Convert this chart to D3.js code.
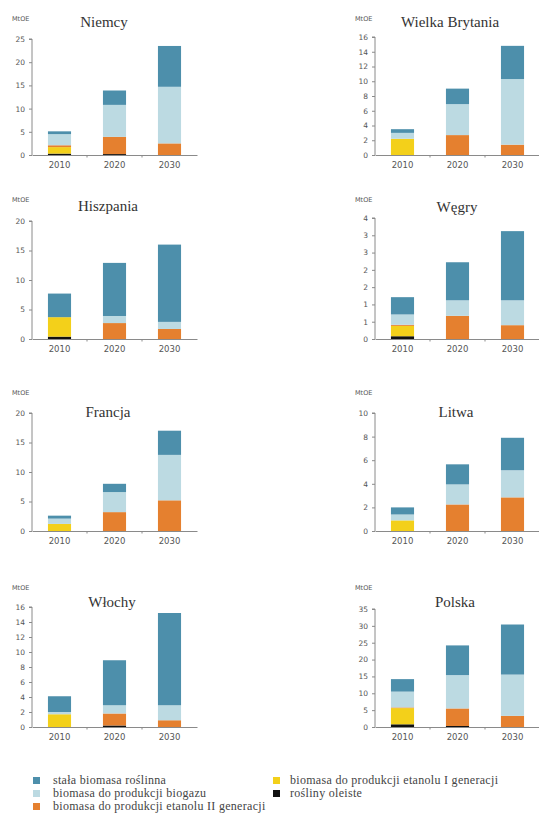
<!DOCTYPE html>
<html><head><meta charset="utf-8">
<script src="https://cdn.jsdelivr.net/npm/d3@7"></script>
<style>
html,body{margin:0;padding:0;background:#fff;}
svg{display:block;}
</style></head>
<body>
<svg id="chart" width="539" height="835"></svg>
<script>
// ---- DATA ----
const years = ["2010", "2020", "2030"];
const countries = ["Niemcy", "Wielka Brytania", "Hiszpania", "Węgry", "Francja", "Litwa", "Włochy", "Polska"];
const seriesNames = ["rośliny oleiste", "biomasa do produkcji etanolu I generacji", "biomasa do produkcji etanolu II generacji", "biomasa do produkcji biogazu", "stała biomasa roślinna"];
// per country: values for 2010, 2020, 2030
const oleiste   = [[0.3,0.2,0],[0,0,0],[0.4,0,0],[0.08,0,0],[0,0,0],[0,0,0],[0,0.2,0],[0.8,0.3,0]];
const etanolI   = [[1.4,0,0],[2.2,0,0],[3.3,0,0],[0.3,0,0],[1.2,0,0],[0.9,0,0],[1.7,0,0],[4.8,0,0]];
const etanolII  = [[0.4,3.7,2.5],[0,2.7,1.4],[0,2.7,1.7],[0.03,0.67,0.4],[0,3.2,5.2],[0,2.25,2.85],[0,1.6,0.9],[0.2,5.2,3.3]];
const biogaz    = [[2.4,6.9,12.2],[0.8,4.2,8.9],[0,1.2,1.2],[0.3,0.45,0.72],[0.9,3.4,7.7],[0.5,1.7,2.3],[0.3,1.1,2.0],[4.7,9.9,12.25]];
const stala     = [[0.6,3.1,8.8],[0.5,2.1,4.5],[4.0,9.0,13.1],[0.5,1.1,2.0],[0.5,1.4,4.1],[0.6,1.7,2.75],[2.1,6.0,12.3],[3.7,8.8,14.85]];
const yTicks = [
  [0,5,10,15,20,25],
  [0,2,4,6,8,10,12,14,16],
  [0,5,10,15,20],
  [0,0.5,1,1.5,2,2.5,3,3.5],
  [0,5,10,15,20],
  [0,2,4,6,8,10],
  [0,2,4,6,8,10,12,14,16],
  [0,5,10,15,20,25,30,35]
];
const yTickLabels = [
  null, null, null,
  ["0","1","1","2","2","3","3","4"],
  null, null, null, null
];
const unitLabel = "MtOE";
const legendOrder = [4, 1, 3, 0, 2]; // indices into seriesNames

// ---- STYLE / LAYOUT ----
const colors = ["#111111", "#f3d01a", "#e5802f", "#bcdae2", "#4d8fab"];
const panels = [
  {x0:32,  y0:155, top:39,  titleX:104, titleY:27,  unitY:21},
  {x0:375, y0:155, top:37,  titleX:450, titleY:27,  unitY:21},
  {x0:32,  y0:339, top:221, titleX:108, titleY:211, unitY:202},
  {x0:375, y0:339, top:218, titleX:457, titleY:212, unitY:202},
  {x0:32,  y0:531, top:413, titleX:108, titleY:417, unitY:395},
  {x0:375, y0:531, top:413, titleX:456, titleY:417, unitY:395},
  {x0:32,  y0:727, top:607, titleX:112, titleY:607, unitY:590},
  {x0:375, y0:727, top:609, titleX:455, titleY:607, unitY:590}
];
const axisW = 165;
const axisColor = "#8a8a8a";
const tickText = "#555";

const svg = d3.select("#chart");
const allSeries = [oleiste, etanolI, etanolII, biogaz, stala];

countries.forEach((c, i) => {
  const p = panels[i];
  const g = svg.append("g");
  const ticks = yTicks[i];
  const yMax = ticks[ticks.length - 1];
  const y = d3.scaleLinear().domain([0, yMax]).range([p.y0, p.top]);
  const x = d3.scaleBand().domain(years).range([p.x0, p.x0 + axisW]).paddingInner(0.58).paddingOuter(0.29);

  const rows = years.map((yr, j) => {
    const o = {year: yr};
    seriesNames.forEach((s, k) => o[s] = allSeries[k][i][j]);
    return o;
  });
  const stack = d3.stack().keys(seriesNames)(rows);

  g.selectAll("g.layer").data(stack).join("g")
    .attr("fill", (d, k) => colors[k])
    .selectAll("rect").data(d => d).join("rect")
    .attr("x", d => x(d.data.year))
    .attr("width", x.bandwidth())
    .attr("y", d => y(d[1]))
    .attr("height", d => Math.max(0, y(d[0]) - y(d[1])));

  const labels = yTickLabels[i];
  const yAxis = d3.axisLeft(y).tickValues(ticks).tickSize(3).tickPadding(4)
    .tickFormat((d, k) => labels ? labels[k] : d3.format("d")(d));
  const ya = g.append("g").attr("transform", `translate(${p.x0},0)`).call(yAxis);
  ya.select(".domain").attr("stroke", axisColor).attr("d", `M-3,${p.top}H0V${p.y0}`);
  ya.selectAll(".tick line").attr("stroke", axisColor);
  ya.selectAll(".tick text").attr("fill", tickText)
    .style("font-family", "'DejaVu Sans', Verdana, sans-serif").style("font-size", "7.5px");

  const xa = g.append("g").attr("transform", `translate(0,${p.y0})`)
    .call(d3.axisBottom(x).tickSize(0).tickPadding(7));
  xa.select(".domain").attr("stroke", axisColor);
  xa.selectAll(".tick text").attr("fill", tickText)
    .style("font-family", "'DejaVu Sans', Verdana, sans-serif").style("font-size", "8.5px");
  const bounds = years.slice(1).map(yr => x(yr) - x.step() * x.paddingInner() / 2);
  xa.selectAll("line.bound").data(bounds).join("line").attr("class", "bound")
    .attr("x1", d => d).attr("x2", d => d).attr("y1", 0).attr("y2", 2.5)
    .attr("stroke", axisColor);

  g.append("text").attr("x", p.x0 - 20).attr("y", p.unitY)
    .attr("fill", "#555").style("font-family", "'DejaVu Sans', sans-serif")
    .style("font-size", "6.5px").text(unitLabel);

  g.append("text").attr("x", p.titleX).attr("y", p.titleY).attr("text-anchor", "middle")
    .attr("fill", "#333").style("font-family", "'Liberation Serif', 'Times New Roman', serif")
    .style("font-size", "15px").text(c);
});

// ---- LEGEND ----
const legendPos = [
  {x:33, y:784, tx:53}, {x:273, y:784, tx:290},
  {x:33, y:797, tx:53}, {x:273, y:797, tx:290},
  {x:33, y:810, tx:53}
];
const lg = svg.append("g");
legendOrder.forEach((si, k) => {
  const lp = legendPos[k];
  lg.append("rect").attr("x", lp.x).attr("y", lp.y - 7).attr("width", 7).attr("height", 7)
    .attr("fill", colors[si]);
  lg.append("text").attr("x", lp.tx).attr("y", lp.y)
    .attr("fill", "#444").style("font-family", "'Liberation Serif', 'Times New Roman', serif")
    .style("font-size", "12px").style("letter-spacing", "0.3px").text(seriesNames[si]);
});
</script>
</body></html>
